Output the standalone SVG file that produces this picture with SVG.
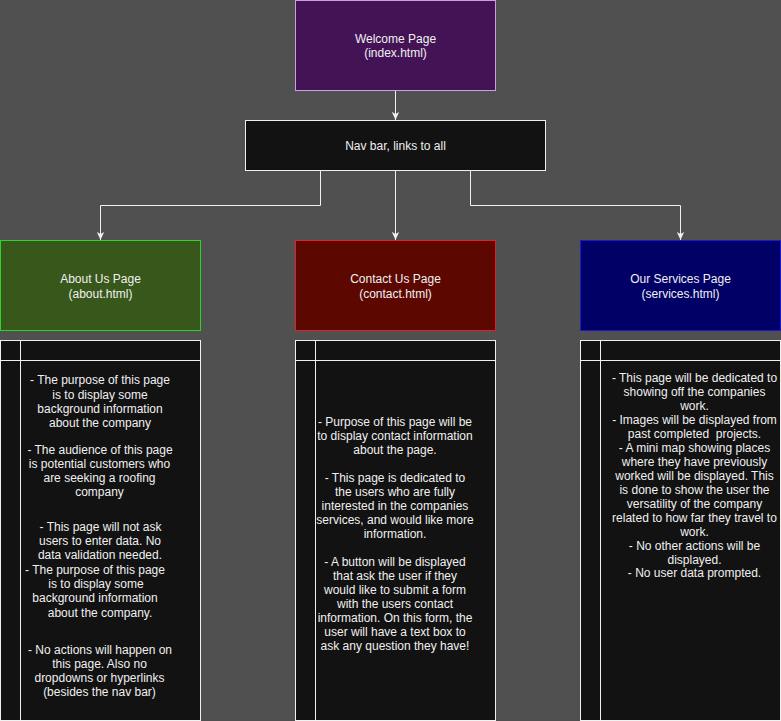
<svg xmlns="http://www.w3.org/2000/svg" width="781" height="721" viewBox="0 0 781 721">
<style>
text{font-family:"Liberation Sans",Arial,Helvetica,sans-serif;font-size:12px;fill:#f0f0f0;text-anchor:middle}
.edge{fill:none;stroke:#f0f0f0;stroke-width:1}
.tbl{fill:#121212;stroke:#f0f0f0;stroke-width:1}
.tl{stroke:#f0f0f0;stroke-width:1}
</style>
<defs>
<marker id="arr" viewBox="0 0 10 10" refX="10" refY="5" markerWidth="8" markerHeight="8" markerUnits="userSpaceOnUse" orient="auto">
<path d="M0,0.5 L10,5 L0,9.5 L2.5,5 Z" fill="#f0f0f0"/>
</marker>
</defs>
<rect width="781" height="721" fill="#505050"/>
<g id="connectors">
<path class="edge" d="M395.5,90.5 V120" marker-end="url(#arr)"/>
<path class="edge" d="M320.5,170.5 V205.5 H100.5 V240" marker-end="url(#arr)"/>
<path class="edge" d="M395.5,170.5 V240" marker-end="url(#arr)"/>
<path class="edge" d="M470.5,170.5 V205.5 H680.5 V240" marker-end="url(#arr)"/>
</g>
<g id="welcome">
<rect x="295.5" y="0.5" width="200" height="90" fill="#431356" stroke="#c9a0dc"/>
<text x="395.5" y="43">Welcome Page</text>
<text x="395.5" y="57">(index.html)</text>
</g>
<g id="navbar">
<rect x="245.5" y="120.5" width="300" height="50" fill="#121212" stroke="#f0f0f0"/>
<text x="395.5" y="150">Nav bar, links to all</text>
</g>
<g id="about">
<rect x="0.5" y="240.5" width="200" height="90" fill="#38571a" stroke="#2dd42d"/>
<text x="100.5" y="283">About Us Page</text>
<text x="100.5" y="297.5">(about.html)</text>
</g>
<g id="contact">
<rect x="295.5" y="240.5" width="200" height="90" fill="#5c0700" stroke="#e0202b"/>
<text x="395.5" y="283">Contact Us Page</text>
<text x="395.5" y="297.5">(contact.html)</text>
</g>
<g id="services">
<rect x="580.5" y="240.5" width="200" height="90" fill="#000066" stroke="#1a1acc"/>
<text x="680.5" y="283">Our Services Page</text>
<text x="680.5" y="297.5">(services.html)</text>
</g>
<g id="about-table">
<rect class="tbl" x="0.5" y="340.5" width="200" height="380"/>
<line class="tl" x1="0.5" y1="360.5" x2="200.5" y2="360.5"/>
<line class="tl" x1="20.5" y1="340.5" x2="20.5" y2="720.5"/>
<text x="100" y="384">- The purpose of this page</text>
<text x="100" y="398.5">is to display some</text>
<text x="100" y="412.5">background information</text>
<text x="100" y="426.5">about the company</text>
<text x="100" y="454">- The audience of this page</text>
<text x="99.5" y="468">is potential customers who</text>
<text x="99.5" y="482">are seeking a roofing</text>
<text x="99.5" y="496">company</text>
<text x="100.5" y="530.5">- This page will not ask</text>
<text x="100" y="544.5">users to enter data. No</text>
<text x="100" y="558.5">data validation needed.</text>
<text x="95" y="574">- The purpose of this page</text>
<text x="96" y="588">is to display some</text>
<text x="95" y="602">background information</text>
<text x="100" y="616.5">about the company.</text>
<text x="100" y="654">- No actions will happen on</text>
<text x="99.5" y="668">this page. Also no</text>
<text x="99.5" y="682">dropdowns or hyperlinks</text>
<text x="99.5" y="696">(besides the nav bar)</text>
</g>
<g id="contact-table">
<rect class="tbl" x="295.5" y="340.5" width="200" height="380"/>
<line class="tl" x1="295.5" y1="360.5" x2="495.5" y2="360.5"/>
<line class="tl" x1="315.5" y1="340.5" x2="315.5" y2="720.5"/>
<text x="395" y="425.5">- Purpose of this page will be</text>
<text x="395" y="440">to display contact information</text>
<text x="395" y="454">about the page.</text>
<text x="395" y="481.5">- This page is dedicated to</text>
<text x="395" y="496">the users who are fully</text>
<text x="395" y="510">interested in the companies</text>
<text x="395" y="524">services, and would like more</text>
<text x="395" y="538">information.</text>
<text x="395" y="565.5">- A button will be displayed</text>
<text x="395" y="580">that ask the user if they</text>
<text x="395" y="594">would like to submit a form</text>
<text x="395" y="608">with the users contact</text>
<text x="395" y="622">information. On this form, the</text>
<text x="395" y="636">user will have a text box to</text>
<text x="395" y="650">ask any question they have!</text>
</g>
<g id="services-table">
<rect class="tbl" x="580.5" y="340.5" width="200" height="380"/>
<line class="tl" x1="580.5" y1="360.5" x2="780.5" y2="360.5"/>
<line class="tl" x1="600.5" y1="340.5" x2="600.5" y2="720.5"/>
<text x="694.5" y="382.3">- This page will be dedicated to</text>
<text x="694.5" y="396.3">showing off the companies</text>
<text x="694.5" y="410.3">work.</text>
<text x="694.5" y="424">- Images will be displayed from</text>
<text x="694.5" y="438" xml:space="preserve">past completed  projects.</text>
<text x="694.5" y="452">- A mini map showing places</text>
<text x="694.5" y="466">where they have previously</text>
<text x="694.5" y="480">worked will be displayed. This</text>
<text x="694.5" y="494">is done to show the user the</text>
<text x="694.5" y="508">versatility of the company</text>
<text x="694.5" y="521.5">related to how far they travel to</text>
<text x="694.5" y="535.5">work.</text>
<text x="694.5" y="549.5">- No other actions will be</text>
<text x="694.5" y="563.5">displayed.</text>
<text x="694.5" y="577">- No user data prompted.</text>
</g>
</svg>
